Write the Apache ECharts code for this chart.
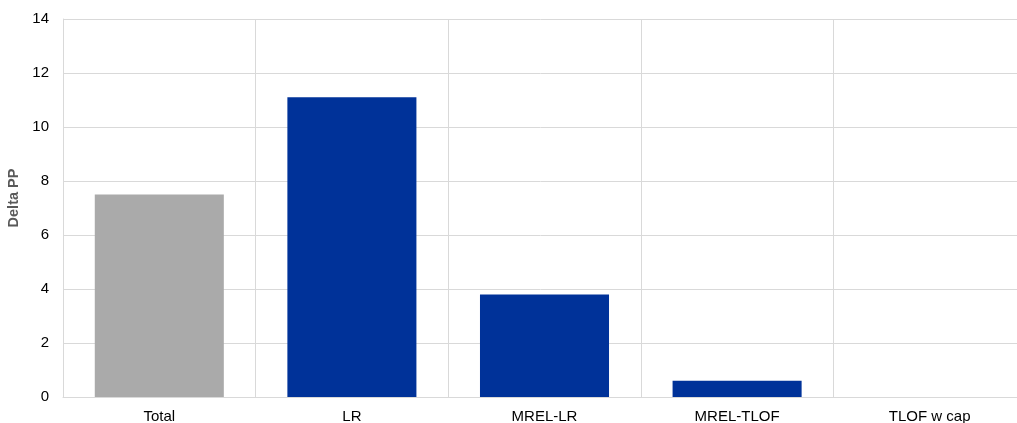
<!DOCTYPE html>
<html lang="en">
<head>
    <meta charset="utf-8"/>
    <title>Delta PP</title>
    <script src="https://cdn.jsdelivr.net/npm/echarts@6/dist/echarts.min.js"></script>
    <style>
        html, body { margin: 0; padding: 0; background: #fff; }
        #chart { width: 1017px; height: 423px; }
    </style>
</head>
<body>
<div id="chart"></div>
<script>
    const categories = ['Total', 'LR', 'MREL-LR', 'MREL-TLOF', 'TLOF w cap'];
    const values = [7.5, 11.1, 3.8, 0.6, 0];
    const barColors = ['#aaaaaa', '#003299', '#003299', '#003299', '#003299'];
    const yTicks = { min: 0, max: 14, interval: 2 };

    const chart = echarts.init(document.getElementById('chart'));
    const option = {
        animation: false,
        textStyle: { fontFamily: 'Liberation Sans, Arial, sans-serif' },
        grid: { left: 63, right: -9, top: 19, bottom: 26, containLabel: false, outerBoundsMode: 'none' },
        xAxis: {
            type: 'category',
            data: categories,
            axisLine: { lineStyle: { color: '#d9d9d9' } },
            axisTick: { show: false },
            axisLabel: { color: '#000', fontSize: 15, margin: 12 },
            splitLine: { show: true, lineStyle: { color: '#d9d9d9' } }
        },
        yAxis: {
            type: 'value',
            min: yTicks.min,
            max: yTicks.max,
            interval: yTicks.interval,
            name: 'Delta PP',
            nameLocation: 'middle',
            nameGap: 34,
            nameTextStyle: { color: '#595959', fontSize: 14.5, fontWeight: 'bold', padding: [0, 0, 0, 20] },
            axisLine: { show: true, lineStyle: { color: '#d9d9d9' } },
            axisTick: { show: false },
            axisLabel: { color: '#000', fontSize: 15, margin: 14 },
            splitLine: { lineStyle: { color: '#d9d9d9' } }
        },
        series: [{
            type: 'bar',
            barWidth: '67%',
            data: values.map((v, i) => ({ value: v, itemStyle: { color: barColors[i] } }))
        }]
    };
    chart.setOption(option);
</script>
</body>
</html>
